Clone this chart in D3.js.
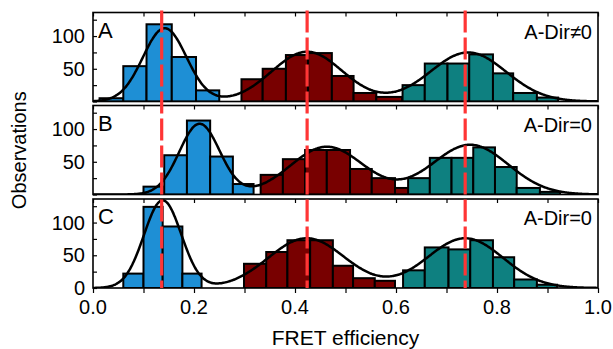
<!DOCTYPE html>
<html><head><meta charset="utf-8">
<script src="https://cdn.jsdelivr.net/npm/d3@7"></script>
<style>html,body{margin:0;padding:0;background:#fff;}svg{display:block;font-family:"Liberation Sans",Arial,sans-serif;}</style>
</head><body><svg id="c" width="613" height="349"></svg>
<script>
// ---- data ----
const panelLetters = ["A", "B", "C"];
const panelLabels = ["A-Dir\u22600", "A-Dir=0", "A-Dir=0"];
const populations = ["low", "mid", "high"];
const popColors = ["#1e8fd5", "#780000", "#0e8080"];

// bin edges (FRET efficiency) and counts for each panel / population
const edgesA_low  = [0.013, 0.060, 0.106, 0.156, 0.204, 0.250];
const countsA_low = [5, 54, 118, 68, 17];
const edgesA_mid  = [0.294, 0.336, 0.382, 0.426, 0.473, 0.516, 0.561, 0.612];
const countsA_mid = [34, 50, 71, 74, 39, 13, 7];
const edgesA_high = [0.613, 0.657, 0.702, 0.745, 0.792, 0.832, 0.879, 0.921];
const countsA_high= [25, 58, 58, 72, 43, 13, 6];

const edgesB_low  = [0.100, 0.141, 0.186, 0.232, 0.277, 0.318];
const countsB_low = [12, 60, 113, 58, 16];
const edgesB_mid  = [0.332, 0.376, 0.420, 0.463, 0.509, 0.552, 0.598, 0.628];
const countsB_mid = [30, 54, 68, 68, 39, 25, 10];
const edgesB_high = [0.624, 0.667, 0.710, 0.753, 0.796, 0.839, 0.885, 0.925];
const countsB_high= [25, 56, 56, 72, 42, 10, 4];

const edgesC_low  = [0.060, 0.100, 0.138, 0.177, 0.215];
const countsC_low = [22, 124, 94, 22];
const edgesC_mid  = [0.299, 0.343, 0.385, 0.430, 0.475, 0.515, 0.558, 0.598];
const countsC_mid = [37, 55, 73, 73, 34, 15, 11];
const edgesC_high = [0.614, 0.657, 0.704, 0.747, 0.792, 0.834, 0.879, 0.919];
const countsC_high= [27, 62, 59, 73, 47, 13, 5];

// Gaussian fit parameters: [center, amplitude, sigma]
const fitA = [[0.142, 112, 0.043], [0.424, 76, 0.070], [0.743, 75, 0.075]];
const fitB = [[0.211, 108, 0.040], [0.463, 73, 0.072], [0.747, 76, 0.075]];
const fitC = [[0.138, 134, 0.037], [0.423, 76, 0.076], [0.737, 76, 0.075]];

const refLines = [0.136, 0.424, 0.737];
const xTicks = [0, 0.1, 0.2, 0.3, 0.4, 0.5, 0.6, 0.7, 0.8, 0.9, 1.0];
const xTickLabels = ["0.0", "0.2", "0.4", "0.6", "0.8", "1.0"];
const yTicks = [0, 25, 50, 75, 100, 125];
const yTickLabels = [50, 100];
const xTitle = "FRET efficiency";
const yTitle = "Observations";

// ---- build ----
const hist = [
  [[edgesA_low, countsA_low], [edgesA_mid, countsA_mid], [edgesA_high, countsA_high]],
  [[edgesB_low, countsB_low], [edgesB_mid, countsB_mid], [edgesB_high, countsB_high]],
  [[edgesC_low, countsC_low], [edgesC_mid, countsC_mid], [edgesC_high, countsC_high]]
];
const fits = [fitA, fitB, fitC];

const svg = d3.select("#c");
const left = 93, right = 598;
const tops = [12.5, 105.5, 199], ph = 89;
const x = d3.scaleLinear().domain([0, 1]).range([left, right]);

panelLetters.forEach((letter, pi) => {
  const top = tops[pi];
  const y = d3.scaleLinear().domain([0, 136]).range([top + ph, top]);
  const g = svg.append("g");
  const clipId = "clip" + pi;
  svg.append("clipPath").attr("id", clipId).append("rect")
    .attr("x", left).attr("y", top).attr("width", right - left).attr("height", ph);
  const inner = g.append("g").attr("clip-path", `url(#${clipId})`);

  hist[pi].forEach(([edges, counts], si) => {
    inner.selectAll(null).data(counts).enter().append("rect")
      .attr("x", (d, i) => x(edges[i]))
      .attr("width", (d, i) => x(edges[i + 1]) - x(edges[i]))
      .attr("y", d => y(d))
      .attr("height", d => y(0) - y(d))
      .attr("fill", popColors[si])
      .attr("stroke", "#000").attr("stroke-width", 2);
  });

  // fitted curve (sum of the three Gaussians)
  const pts = d3.range(0, 1.0001, 0.002).map(v => [v, d3.sum(fits[pi], f => f[1] * Math.exp(-((v - f[0]) ** 2) / (2 * f[2] * f[2])))]);
  inner.append("path").datum(pts)
    .attr("d", d3.line().x(d => x(d[0])).y(d => y(d[1])).curve(d3.curveBasis))
    .attr("fill", "none").attr("stroke", "#000").attr("stroke-width", 2.5);

  // frame
  g.append("rect").attr("x", left).attr("y", top).attr("width", right - left).attr("height", ph)
    .attr("fill", "none").attr("stroke", "#000").attr("stroke-width", 1.6);

  // y ticks (inward)
  const ya = d3.axisLeft(y).tickValues(yTicks).tickSizeInner(-4).tickSizeOuter(0).tickFormat("");
  const yg = g.append("g").attr("transform", `translate(${left},0)`).call(ya);
  yg.select(".domain").remove();
  yg.selectAll("line").attr("stroke", "#000").attr("stroke-width", 1.2);
  const labs = pi === 2 ? [0].concat(yTickLabels) : yTickLabels;
  g.selectAll(null).data(labs).enter().append("text")
    .attr("x", left - 8).attr("y", d => y(d)).attr("dy", "0.36em")
    .attr("text-anchor", "end").attr("font-size", 20).text(d => d);

  // x ticks top (inward)
  const xt = d3.axisTop(x).tickValues(xTicks).tickSizeInner(-4).tickSizeOuter(0).tickFormat("");
  const xg = g.append("g").attr("transform", `translate(0,${top})`).call(xt);
  xg.select(".domain").remove();
  xg.selectAll("line").attr("stroke", "#000").attr("stroke-width", 1.2);

  g.append("text").attr("x", left + 5).attr("y", top + 25).attr("font-size", 22).text(letter);
  g.append("text").attr("x", right - 6).attr("y", top + 26).attr("text-anchor", "end").attr("font-size", 20).text(panelLabels[pi]);

  if (pi === 2) {
    const xb = d3.axisBottom(x).tickValues(xTicks).tickSizeInner(5).tickSizeOuter(0).tickFormat("");
    const bg = g.append("g").attr("transform", `translate(0,${top + ph})`).call(xb);
    bg.select(".domain").remove();
    bg.selectAll("line").attr("stroke", "#000").attr("stroke-width", 1.2);
    g.selectAll(null).data(xTickLabels).enter().append("text")
      .attr("x", d => x(+d)).attr("y", top + ph + 26)
      .attr("text-anchor", "middle").attr("font-size", 20).text(d => d);
  }
});

// red dashed reference lines
svg.selectAll(null).data(refLines).enter().append("line")
  .attr("x1", d => x(d)).attr("x2", d => x(d))
  .attr("y1", tops[0] - 2).attr("y2", tops[2] + ph)
  .attr("stroke", "#ff3535").attr("stroke-width", 3.2)
  .attr("stroke-dasharray", "22,5");

svg.append("text").attr("x", (left + right) / 2).attr("y", 345)
  .attr("text-anchor", "middle").attr("font-size", 21).text(xTitle);
svg.append("text").attr("transform", `translate(26,${(tops[0] + tops[2] + ph) / 2}) rotate(-90)`)
  .attr("text-anchor", "middle").attr("font-size", 20).text(yTitle);
</script></body></html>
